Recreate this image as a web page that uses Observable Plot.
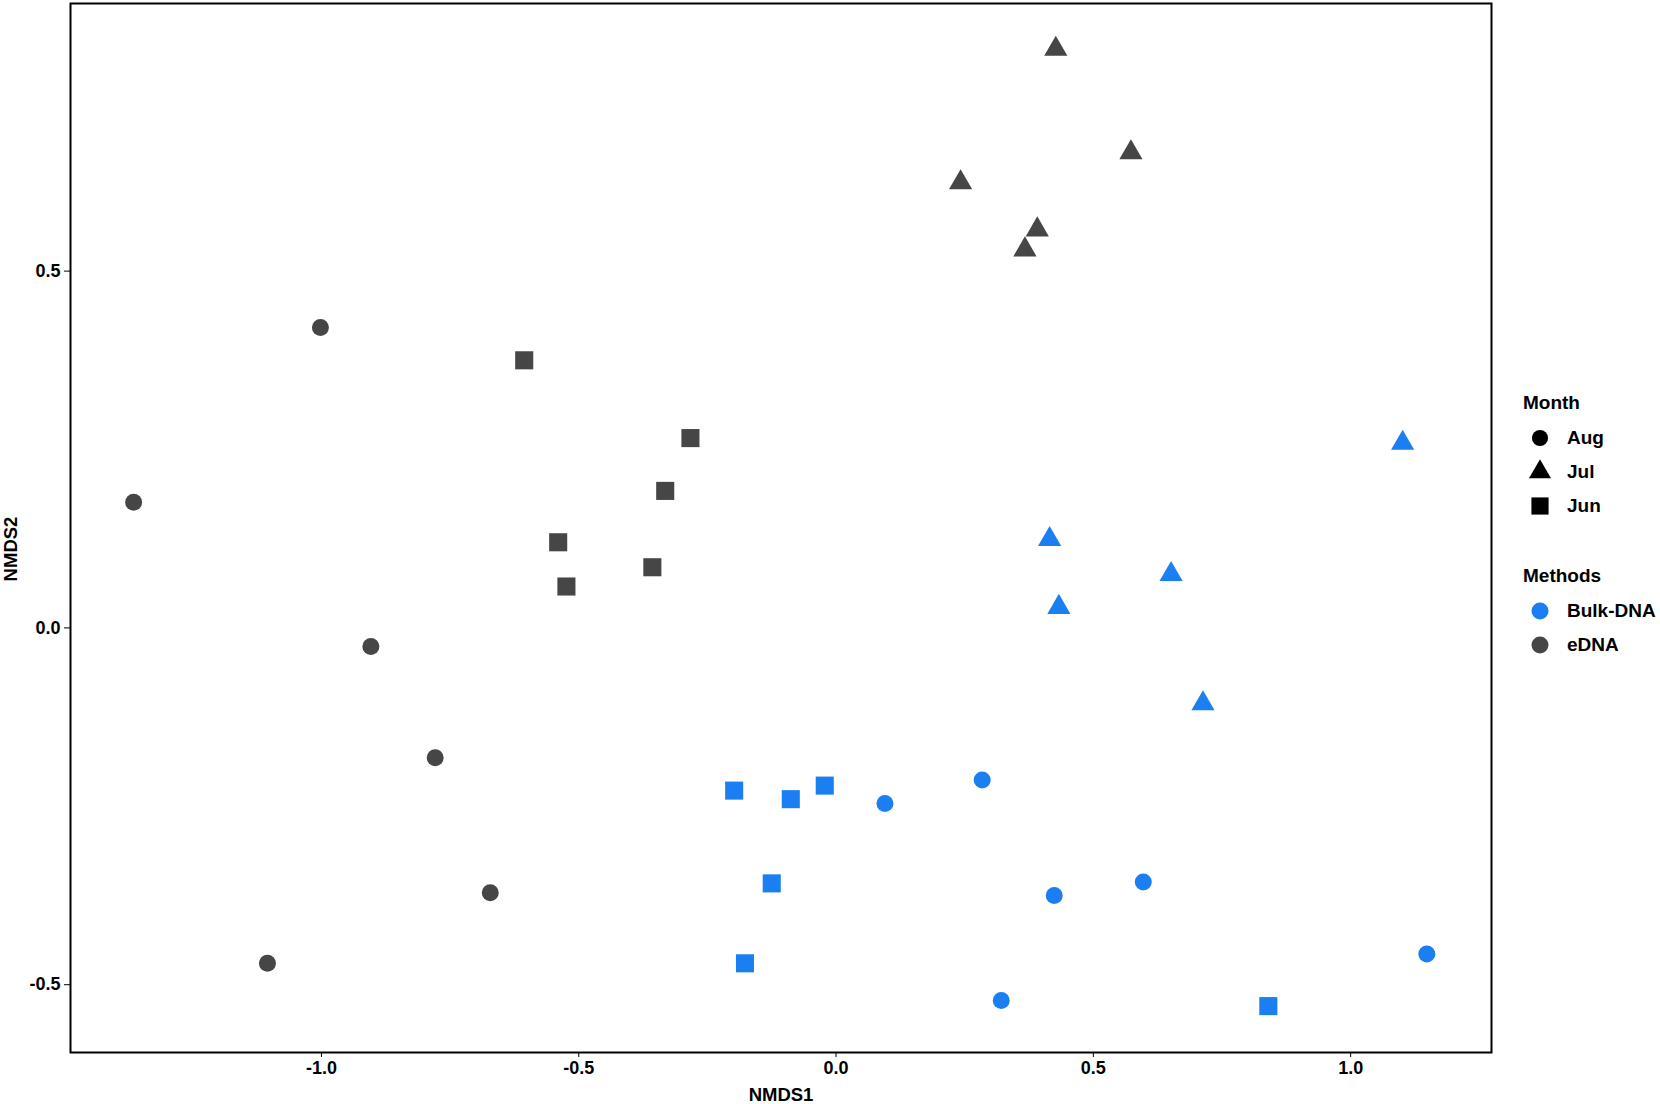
<!DOCTYPE html>
<html>
<head>
<meta charset="utf-8">
<script src="https://cdn.jsdelivr.net/npm/d3@7"></script>
<script src="https://cdn.jsdelivr.net/npm/@observablehq/plot@0.6"></script>
<style>
  html, body { margin: 0; padding: 0; background: #fff; }
  #wrap { position: relative; width: 1660px; height: 1104px; font-family: "Liberation Sans", Arial, sans-serif; }
  #legend { position: absolute; left: 1523px; top: 390px; font-weight: bold; color: #000; font-size: 19px; }
  .lg-title { height: 26px; line-height: 26px; }
  .lg-group { margin-top: 5px; }
  .lg-row { height: 34px; display: flex; align-items: center; }
  .lg-row svg { width: 34px; height: 34px; flex: none; }
  .lg-row span { margin-left: 10px; line-height: 34px; }
  .lg-gap { height: 40px; }
  #ylab { position: absolute; left: 11px; top: 549px; transform: translate(-50%, -50%) rotate(-90deg);
          white-space: nowrap; line-height: 1; font-weight: bold; font-size: 18.5px; color: #000; }
</style>
</head>
<body>
<div id="wrap"><div id="chart"></div><div id="legend"></div><div id="ylab"></div></div>
<script>
// ---- data ----
const nmds1 = [
  // eDNA, Jul
  0.427, 0.573, 0.242, 0.391, 0.367,
  // eDNA, Jun
  -0.606, -0.283, -0.332, -0.540, -0.357, -0.524,
  // eDNA, Aug
  -1.002, -1.365, -0.904, -0.779, -0.672, -1.105,
  // Bulk-DNA, Jul
  1.101, 0.415, 0.651, 0.433, 0.713,
  // Bulk-DNA, Jun
  -0.198, -0.088, -0.022, -0.125, -0.177, 0.840,
  // Bulk-DNA, Aug
  0.095, 0.284, 0.424, 0.597, 0.321, 1.148
];
const nmds2 = [
  0.811, 0.666, 0.624, 0.558, 0.530,
  0.375, 0.266, 0.192, 0.120, 0.085, 0.058,
  0.421, 0.176, -0.026, -0.182, -0.371, -0.470,
  0.259, 0.124, 0.075, 0.029, -0.106,
  -0.228, -0.240, -0.221, -0.358, -0.470, -0.530,
  -0.246, -0.213, -0.375, -0.356, -0.522, -0.457
];
const month = [
  "Jul","Jul","Jul","Jul","Jul",
  "Jun","Jun","Jun","Jun","Jun","Jun",
  "Aug","Aug","Aug","Aug","Aug","Aug",
  "Jul","Jul","Jul","Jul","Jul",
  "Jun","Jun","Jun","Jun","Jun","Jun",
  "Aug","Aug","Aug","Aug","Aug","Aug"
];
const method = [
  "eDNA","eDNA","eDNA","eDNA","eDNA",
  "eDNA","eDNA","eDNA","eDNA","eDNA","eDNA",
  "eDNA","eDNA","eDNA","eDNA","eDNA","eDNA",
  "Bulk-DNA","Bulk-DNA","Bulk-DNA","Bulk-DNA","Bulk-DNA",
  "Bulk-DNA","Bulk-DNA","Bulk-DNA","Bulk-DNA","Bulk-DNA","Bulk-DNA",
  "Bulk-DNA","Bulk-DNA","Bulk-DNA","Bulk-DNA","Bulk-DNA","Bulk-DNA"
];
const monthLevels = ["Aug", "Jul", "Jun"];
const monthSymbols = ["circle", "triangle", "square"];
const methodLevels = ["Bulk-DNA", "eDNA"];
const methodColors = ["#1b7ff2", "#464646"];
const xTicks = [-1.0, -0.5, 0.0, 0.5, 1.0];
const yTicks = [-0.5, 0.0, 0.5];
const xLabel = "NMDS1";
const yLabel = "NMDS2";

// ---- build table ----
const data = nmds1.map((x, i) => ({x, y: nmds2[i], month: month[i], method: method[i]}));
const symbolR = {circle: 8.5, triangle: 8.6, square: 10.2};
const fmt = d => d.toFixed(1);
const FONT = '"Liberation Sans", Arial, sans-serif';

const plot = Plot.plot({
  width: 1660,
  height: 1104,
  marginLeft: 70,
  marginRight: 169,
  marginTop: 3,
  marginBottom: 52,
  style: {fontFamily: FONT, fontSize: "18px", fontWeight: "bold", color: "#000", background: "#fff"},
  x: {domain: [-1.4877, 1.2737]},
  y: {domain: [-0.595, 0.875]},
  color: {domain: methodLevels, range: methodColors},
  symbol: {domain: monthLevels, range: monthSymbols},
  marks: [
    ...monthLevels.map((m, i) => Plot.dot(data.filter(d => d.month === m), {
      x: "x", y: "y", fill: "method", symbol: "month", r: symbolR[monthSymbols[i]], stroke: "none"
    })),
    Plot.frame({stroke: "#000", strokeWidth: 2}),
    Plot.axisX({ticks: xTicks, tickFormat: fmt, tickSize: 5, tickPadding: 4, fontSize: 18,
      label: xLabel, labelAnchor: "center", labelArrow: "none", labelOffset: 48}),
    Plot.axisY({ticks: yTicks, tickFormat: fmt, tickSize: 6, tickPadding: 4, fontSize: 18, label: null})
  ]
});
plot.querySelectorAll("g[aria-label='x-axis label'] text")
  .forEach(t => t.setAttribute("font-size", "18.5"));
document.getElementById("chart").appendChild(plot);
document.getElementById("ylab").textContent = yLabel;

// ---- legend ----
const legend = d3.select("#legend");
function addRow(parent, symbolType, r, color, label) {
  const row = parent.append("div").attr("class", "lg-row");
  const svg = row.append("svg").attr("viewBox", "-17 -17 34 34");
  const sym = {circle: d3.symbolCircle, triangle: d3.symbolTriangle, square: d3.symbolSquare}[symbolType];
  svg.append("path").attr("d", d3.symbol(sym, Math.PI * r * r)()).attr("fill", color);
  row.append("span").text(label);
}
legend.append("div").attr("class", "lg-title").text("Month");
const g1 = legend.append("div").attr("class", "lg-group");
monthLevels.forEach((m, i) => addRow(g1, monthSymbols[i], symbolR[monthSymbols[i]] * 0.95, "#000", m));
legend.append("div").attr("class", "lg-gap");
legend.append("div").attr("class", "lg-title").text("Methods");
const g2 = legend.append("div").attr("class", "lg-group");
methodLevels.forEach((m, i) => addRow(g2, "circle", 8.5, methodColors[i], m));
</script>
</body>
</html>
